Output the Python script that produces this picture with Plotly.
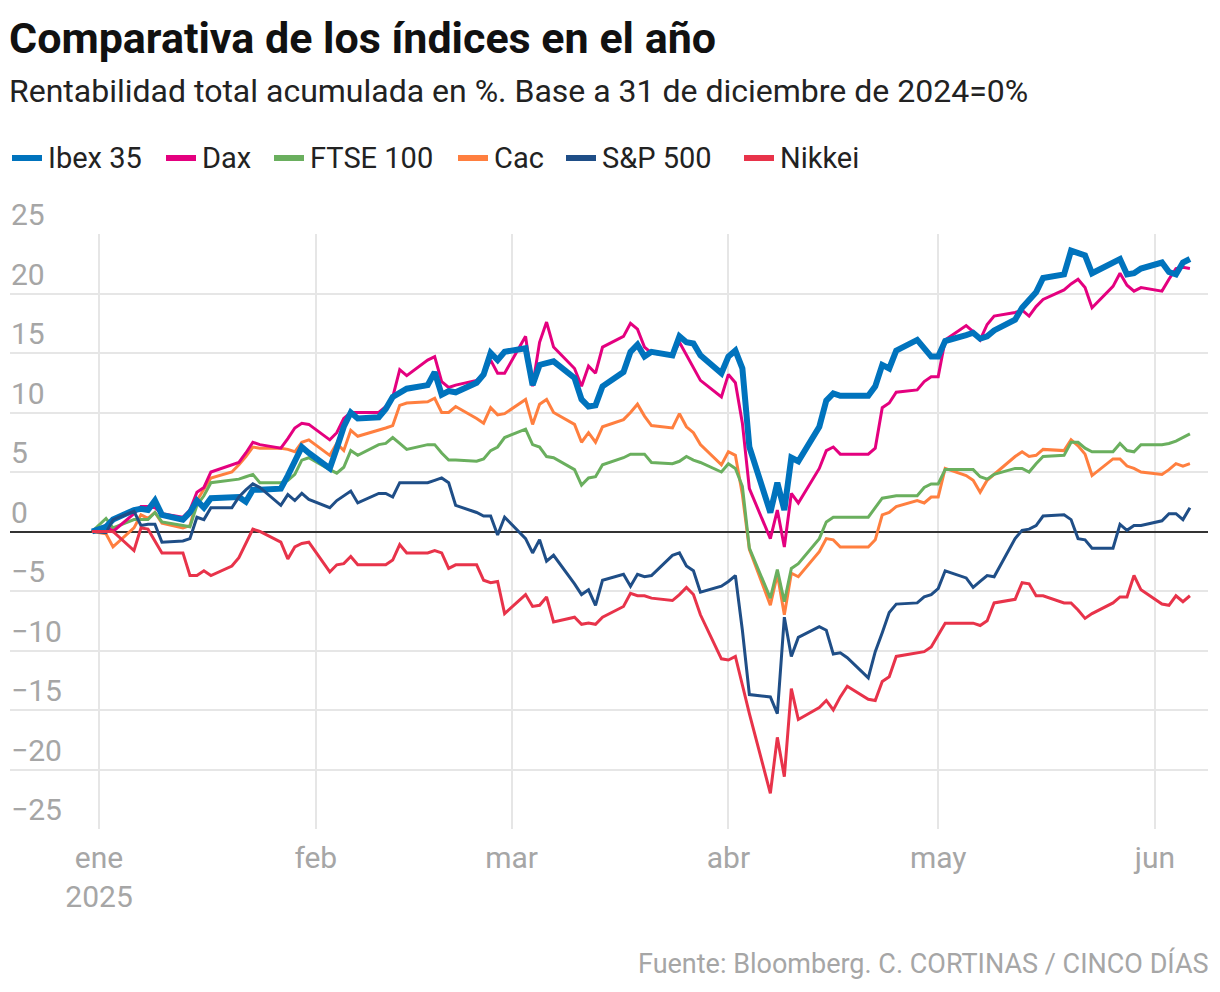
import pandas as pd
import plotly.graph_objects as go

# ---------------- data ----------------
dates = [d for d in pd.bdate_range("2024-12-31", "2025-06-06") if d != pd.Timestamp("2025-01-01")]

series_names = ["Ibex 35", "Dax", "FTSE 100", "Cac", "S&P 500", "Nikkei"]
series_colors = ["#0073BD", "#E4007F", "#6AAF5E", "#FF7F3F", "#1F4E87", "#E8334A"]

ibex = [0.0,
        0.4, 1.0, 1.8, 1.9, 1.8, 2.6, 1.4, 1.0, 1.6, 2.6, 2.0, 2.8, 2.9, 2.9, 2.5, 3.5, 3.5, 3.6, 4.7, 5.9, 7.1, 6.6,
        5.3, 7.0, 8.8, 10.0, 9.5, 9.6, 10.3, 11.3, 11.7, 12.0, 12.3, 13.4, 11.5, 11.8, 11.7, 12.5, 13.2, 15.0, 14.4, 15.1,
        15.4, 12.3, 14.0, 14.2, 14.3, 12.9, 11.1, 10.5, 10.6, 12.2, 13.4, 15.1, 15.7, 14.7, 15.1, 14.8, 16.4, 15.9, 15.8, 14.8, 13.3,
        14.7, 15.2, 13.7, 7.1, 1.6, 4.1, 1.8, 6.2, 5.9, 8.8, 11.0, 11.6, 11.4, 11.4, 11.4, 12.2, 14.0, 13.7, 15.2, 16.1, 15.4, 14.7,
        14.7, 16.0, 16.5, 16.7, 16.2, 16.4, 16.9, 17.8, 18.8, 19.5, 20.1, 21.3, 21.6, 23.6, 23.4, 23.2, 21.7, 22.7, 22.9, 21.6, 21.7, 22.1,
        22.6, 21.8, 21.6, 22.6, 22.9]

dax = [0.0,
       0.5, 0.0, 1.5, 2.1, 2.1, 2.0, 1.5, 1.2, 1.8, 3.3, 3.7, 5.0, 5.6, 5.8, 6.6, 7.5, 7.3, 7.0, 7.8, 8.7, 9.1, 9.0,
       7.7, 8.3, 9.5, 10.0, 10.0, 10.0, 10.5, 11.3, 13.6, 13.1, 14.4, 14.7, 12.6, 12.1, 12.3, 12.7, 13.2, 14.4, 13.3, 13.3,
       16.4, 12.2, 15.9, 17.6, 15.5, 13.7, 12.2, 13.9, 13.3, 15.5, 16.4, 17.5, 17.0, 15.5, 15.0, 14.8, 15.9, 14.8, 13.8, 12.7, 11.3,
       13.2, 12.5, 9.1, 3.6, -0.6, 1.8, -1.3, 3.2, 2.4, 5.3, 6.8, 7.1, 6.5, 6.5, 6.5, 7.0, 10.4, 10.8, 11.7, 11.9, 12.6, 13.0,
       13.0, 16.1, 17.3, 16.8, 16.1, 17.4, 18.1, 18.4, 18.6, 18.1, 18.9, 19.5, 20.3, 20.8, 21.2, 20.5, 18.8, 20.6, 21.7, 20.7, 20.2, 20.5,
       20.2, 21.2, 22.1, 22.2, 22.1]

ftse = [0.0,
        1.1, 0.3, 1.0, 1.0, 1.0, 1.6, 0.8, 0.5, 0.4, 2.2, 3.0, 4.1, 4.3, 4.4, 4.6, 4.8, 4.1, 4.1, 4.3, 4.8, 6.0, 6.2,
        5.2, 4.9, 5.4, 6.8, 6.4, 7.3, 7.4, 7.9, 7.4, 6.9, 7.3, 7.3, 6.6, 6.0, 6.0, 5.9, 6.1, 6.8, 7.1, 7.9,
        8.6, 7.3, 7.1, 6.3, 6.2, 5.2, 3.9, 4.5, 4.6, 5.6, 6.2, 6.5, 6.5, 6.5, 5.8, 5.7, 5.9, 6.3, 6.0, 5.8, 5.0,
        5.7, 5.3, 3.8, -1.4, -5.6, -3.2, -5.9, -3.1, -2.7, -0.6, 0.8, 1.2, 1.2, 1.2, 1.2, 2.0, 2.8, 2.9, 3.0, 3.0, 3.7, 4.0,
        4.0, 5.2, 5.2, 5.2, 4.6, 4.4, 4.8, 5.3, 5.3, 5.0, 5.7, 6.3, 6.4, 7.5, 7.5, 7.0, 6.7, 6.7, 7.4, 6.8, 6.7, 7.3,
        7.3, 7.4, 7.6, 7.9, 8.2]

cac = [0.0,
       -0.2, -1.3, 0.3, 1.4, 1.1, 1.6, 0.7, 0.3, 0.5, 2.6, 3.5, 4.5, 5.0, 5.6, 6.3, 7.1, 7.0, 7.0, 6.9, 6.7, 7.5, 7.7,
       6.4, 7.4, 6.8, 8.5, 8.0, 8.5, 8.7, 8.9, 10.6, 10.8, 10.9, 11.2, 10.0, 10.0, 10.5, 9.5, 9.1, 10.4, 9.8, 9.9,
       11.1, 9.0, 10.7, 11.1, 10.0, 9.0, 7.5, 8.3, 7.5, 8.8, 9.4, 10.0, 10.7, 9.7, 8.9, 8.7, 9.9, 8.8, 8.3, 7.3, 5.6,
       6.7, 6.4, 3.1, -1.5, -6.2, -3.6, -7.0, -3.5, -3.8, -1.7, -0.6, -0.7, -1.3, -1.3, -1.3, -0.7, 1.4, 1.6, 2.1, 2.6, 2.4, 2.9,
       2.9, 5.3, 4.7, 4.3, 3.3, 4.3, 4.8, 6.3, 6.7, 6.3, 6.4, 6.9, 6.8, 7.7, 7.2, 6.5, 4.7, 6.1, 6.1, 5.5, 5.3, 5.0,
       4.8, 5.2, 5.7, 5.5, 5.7]

sp500 = [0.0,
         -0.1, 1.0, 1.7, 0.5, 0.6, 0.6, -0.9, -0.8, -0.6, 1.2, 1.0, 2.0, 2.0, 2.9, 3.5, 4.0, 3.7, 2.2, 3.1, 2.6, 3.2, 2.7,
         2.0, 2.6, 3.0, 3.4, 2.4, 3.2, 3.2, 2.9, 4.1, 4.1, 4.1, 4.3, 4.5, 4.1, 2.2, 1.6, 1.3, 1.3, -0.3, 1.2,
         -0.6, -1.8, -0.7, -2.5, -2.0, -4.4, -5.3, -4.9, -6.2, -4.1, -3.6, -4.6, -3.6, -3.8, -3.7, -2.0, -1.8, -2.9, -3.3, -5.1, -4.6,
         -4.2, -3.7, -8.3, -13.7, -13.9, -15.3, -7.2, -10.5, -8.9, -8.0, -8.3, -10.3, -10.2, -10.6, -12.3, -10.1, -8.5, -6.8, -6.1, -6.0, -5.5, -5.3,
         -4.8, -3.3, -3.9, -4.7, -4.2, -3.7, -3.8, -0.6, 0.1, 0.2, 0.5, 1.3, 1.4, 1.0, -0.6, -0.7, -1.4, -1.4, 0.6, 0.1, 0.5, 0.5,
         0.9, 1.5, 1.5, 1.0, 2.0]

nikkei = [0.0,
          0.0, 0.0, -1.6, 0.3, 0.2, -0.8, -1.8, -1.8, -3.7, -3.7, -3.3, -3.7, -2.9, -2.2, -1.0, 0.2, 0.0, -0.9, -2.3, -1.3, -1.0, -0.9,
          -3.4, -2.8, -2.7, -2.1, -2.8, -2.8, -2.8, -2.4, -1.1, -1.8, -1.8, -1.6, -1.8, -3.1, -2.8, -2.8, -4.1, -4.3, -4.2, -6.9,
          -5.3, -6.3, -6.2, -5.5, -7.6, -7.2, -7.8, -7.7, -7.8, -7.2, -6.3, -5.2, -5.4, -5.4, -5.6, -5.8, -5.3, -4.7, -5.3, -7.0, -10.7,
          -10.8, -10.5, -12.9, -15.3, -22.0, -17.3, -20.6, -13.2, -15.8, -14.8, -14.2, -15.0, -13.9, -13.0, -14.1, -14.2, -12.6, -12.2, -10.5, -10.2, -10.1, -9.7,
          -8.7, -7.7, -7.7, -7.7, -7.9, -7.5, -6.0, -5.7, -4.3, -4.4, -5.4, -5.4, -6.0, -6.0, -6.6, -7.3, -6.9, -6.0, -5.5, -5.5, -3.7, -4.9,
          -6.1, -6.2, -5.4, -5.9, -5.4]

month_ticks = ["2025-01-01", "2025-02-01", "2025-03-01", "2025-04-01", "2025-05-01", "2025-06-01"]
month_labels = ["ene<br>2025", "feb", "mar", "abr", "may", "jun"]
y_ticks = [-25, -20, -15, -10, -5, 0, 5, 10, 15, 20, 25]

title_text = "Comparativa de los índices en el año"
subtitle_text = "Rentabilidad total acumulada en %. Base a 31 de diciembre de 2024=0%"
source_text = "Fuente: Bloomberg. C. CORTINAS / CINCO DÍAS"

values = [ibex, dax, ftse, cac, sp500, nikkei]
for v in values:
    assert len(v) == len(dates), len(v)

# ---------------- layout constants ----------------
W, H = 1220, 992
ML, MR, MT, MB = 10, 12, 234, 163
PW, PH = W - ML - MR, H - MT - MB
FONT = "Roboto"
GREY = "#a6a6a6"


def px(x):
    return (x - ML) / PW


def py(y):
    return (H - MB - y) / PH


fig = go.Figure()

widths = {"Ibex 35": 6, "Dax": 3, "FTSE 100": 3, "Cac": 3, "S&P 500": 3, "Nikkei": 3}
draw_order = ["Cac", "FTSE 100", "Dax", "Ibex 35", "S&P 500", "Nikkei"]
for name in draw_order:
    i = series_names.index(name)
    fig.add_trace(go.Scatter(
        x=dates, y=values[i], mode="lines", name=name,
        line=dict(color=series_colors[i], width=widths[name]),
        showlegend=False, hoverinfo="skip",
    ))

# manual legend (swatch + label)
legend_text_x = [48, 202, 310, 494, 602, 780]
legend_y = 158
shapes = []
annotations = []
for name, color, tx in zip(series_names, series_colors, legend_text_x):
    shapes.append(dict(type="line", xref="paper", yref="paper",
                       x0=px(tx - 36), x1=px(tx - 6), y0=py(legend_y), y1=py(legend_y),
                       line=dict(color=color, width=6)))
    annotations.append(dict(text=name, xref="paper", yref="paper", x=px(tx - 2), y=py(legend_y),
                            xanchor="left", yanchor="middle", showarrow=False,
                            font=dict(family=FONT, size=29, color="#222222")))

# y tick labels sitting above their gridlines
for v in y_ticks:
    annotations.append(dict(text=f"{v}".replace("-", "\u2212"), xref="paper", yref="y",
                            x=0, y=v, xanchor="left", yanchor="bottom", xshift=-1, yshift=0,
                            showarrow=False, font=dict(family=FONT, size=30, color=GREY)))

annotations.append(dict(text="<b>" + title_text + "</b>", xref="paper", yref="paper",
                        x=px(7), y=py(38), xanchor="left", yanchor="middle", showarrow=False,
                        font=dict(family=FONT, size=43, color="#111111")))
annotations.append(dict(text=subtitle_text, xref="paper", yref="paper",
                        x=px(7), y=py(91), xanchor="left", yanchor="middle", showarrow=False,
                        font=dict(family=FONT, size=32, color="#222222")))
annotations.append(dict(text=source_text, xref="paper", yref="paper",
                        x=px(1211), y=py(963), xanchor="right", yanchor="middle", showarrow=False,
                        font=dict(family=FONT, size=27, color=GREY)))

fig.update_layout(
    width=W, height=H,
    margin=dict(l=ML, r=MR, t=MT, b=MB, pad=0),
    paper_bgcolor="white", plot_bgcolor="white",
    shapes=shapes, annotations=annotations,
    showlegend=False,
    xaxis=dict(
        type="date",
        range=["2024-12-19 06:30", "2025-06-08 14:00"],
        tickvals=month_ticks, ticktext=month_labels,
        showgrid=True, gridcolor="#e6e6e6", gridwidth=2,
        ticks="", showline=False, zeroline=False,
        tickfont=dict(family=FONT, size=30, color=GREY),
        ticklabelstandoff=8,
        fixedrange=True,
    ),
    yaxis=dict(
        range=[-25, 25], tickvals=y_ticks,
        showgrid=True, gridcolor="#e6e6e6", gridwidth=2,
        zeroline=True, zerolinecolor="#333333", zerolinewidth=2,
        ticks="", showline=False, showticklabels=False,
        fixedrange=True,
    ),
)

fig.write_html("out.html", config={"displayModeBar": False},
               post_script="document.body.style.margin='0';")
